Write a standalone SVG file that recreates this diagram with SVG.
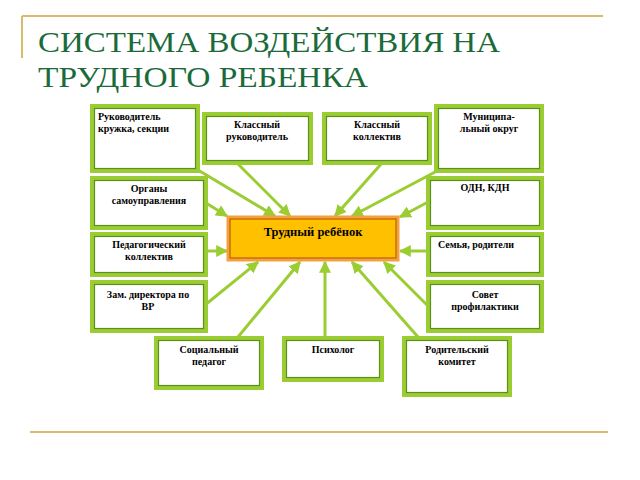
<svg xmlns="http://www.w3.org/2000/svg" width="640" height="480" viewBox="0 0 640 480">
<style>
.title{font-family:"Liberation Serif","DejaVu Serif",serif;font-size:29px;fill:#1b6b3a}
.box{fill:#fff;stroke:#9acd32;stroke-width:4}
.inner{fill:none;stroke:#5e8c1e;stroke-width:1.2}
.t{font-family:"Liberation Serif","DejaVu Serif",serif;font-size:10px;font-weight:bold;fill:#000;text-anchor:middle}
.tl{text-anchor:start}
.c{stroke:#9acd32;stroke-width:3;fill:none;marker-end:url(#ah)}
</style>
<defs>
<marker id="ah" viewBox="0 0 10 10" refX="9" refY="5" markerWidth="4" markerHeight="4" orient="auto" markerUnits="strokeWidth">
<path d="M0,0 L10,5 L0,10 z" fill="#9acd32"/>
</marker>
</defs>
<rect width="640" height="480" fill="#fff"/>
<g id="frame">
<line x1="22" y1="16" x2="603" y2="16" stroke="#d9bc6a" stroke-width="2"/>
<line x1="22" y1="16" x2="22" y2="58" stroke="#d9bc6a" stroke-width="2"/>
<line x1="30" y1="432" x2="608" y2="432" stroke="#d9bc6a" stroke-width="2"/>
</g>
<g id="title">
<text class="title" x="38" y="52" textLength="462" lengthAdjust="spacingAndGlyphs">СИСТЕМА ВОЗДЕЙСТВИЯ НА</text>
<text class="title" x="38" y="87" textLength="330" lengthAdjust="spacingAndGlyphs">ТРУДНОГО РЕБЕНКА</text>
</g>
<g id="connectors">
<line class="c" x1="198" y1="170" x2="275" y2="216"/>
<line class="c" x1="237" y1="163" x2="290" y2="216"/>
<line class="c" x1="206" y1="203" x2="227" y2="216"/>
<line class="c" x1="382" y1="163" x2="335" y2="216"/>
<line class="c" x1="437" y1="171" x2="352" y2="216"/>
<line class="c" x1="428" y1="202" x2="400" y2="217"/>
<line class="c" x1="207" y1="251" x2="227" y2="251"/>
<line class="c" x1="428" y1="251" x2="400" y2="251"/>
<line class="c" x1="205" y1="305" x2="258" y2="262"/>
<line class="c" x1="428" y1="306" x2="384" y2="262"/>
<line class="c" x1="238" y1="337" x2="300" y2="262"/>
<line class="c" x1="325" y1="337" x2="325" y2="262"/>
<line class="c" x1="418" y1="337" x2="352" y2="262"/>
</g>
<g id="n1"><rect class="box" x="92" y="106" width="106" height="65"/><rect class="inner" x="94.5" y="108.5" width="101" height="60"/>
<text class="t tl" x="98" y="120">Руководитель</text><text class="t tl" x="98" y="132">кружка, секции</text></g>
<g id="n2"><rect class="box" x="204" y="114" width="107" height="49"/><rect class="inner" x="206.5" y="116.5" width="102" height="44"/>
<text class="t" x="257" y="128">Классный</text><text class="t" x="257" y="140">руководитель</text></g>
<g id="n3"><rect class="box" x="324" y="114" width="106" height="49"/><rect class="inner" x="326.5" y="116.5" width="101" height="44"/>
<text class="t" x="377" y="128">Классный</text><text class="t" x="377" y="140">коллектив</text></g>
<g id="n4"><rect class="box" x="436" y="106" width="106" height="65"/><rect class="inner" x="438.5" y="108.5" width="101" height="60"/>
<text class="t" x="489" y="120">Муниципа-</text><text class="t" x="489" y="132">льный округ</text></g>
<g id="n5"><rect class="box" x="92" y="178" width="114" height="50"/><rect class="inner" x="94.5" y="180.5" width="109" height="45"/>
<text class="t" x="149" y="192">Органы</text><text class="t" x="149" y="204">самоуправления</text></g>
<g id="n6"><rect class="box" x="428" y="178" width="114" height="50"/><rect class="inner" x="430.5" y="180.5" width="109" height="45"/>
<text class="t" x="485" y="191">ОДН, КДН</text></g>
<g id="center"><rect x="228" y="217" width="170" height="43" fill="#ffc000" stroke="#f5a040" stroke-width="3"/><rect x="230" y="219" width="166" height="39" fill="none" stroke="#b85c10" stroke-width="1.2"/>
<text class="t" x="313" y="236" style="font-size:12.5px">Трудный ребёнок</text></g>
<g id="n7"><rect class="box" x="92" y="234" width="114" height="41"/><rect class="inner" x="94.5" y="236.5" width="109" height="36"/>
<text class="t" x="149" y="248">Педагогический</text><text class="t" x="149" y="260">коллектив</text></g>
<g id="n8"><rect class="box" x="428" y="234" width="114" height="41"/><rect class="inner" x="430.5" y="236.5" width="109" height="36"/>
<text class="t" x="476" y="248">Семья, родители</text></g>
<g id="n9"><rect class="box" x="92" y="282" width="114" height="49"/><rect class="inner" x="94.5" y="284.5" width="109" height="44"/>
<text class="t" x="148" y="298">Зам. директора по</text><text class="t" x="148" y="310">ВР</text></g>
<g id="n10"><rect class="box" x="428" y="282" width="114" height="49"/><rect class="inner" x="430.5" y="284.5" width="109" height="44"/>
<text class="t" x="485" y="298">Совет</text><text class="t" x="485" y="310">профилактики</text></g>
<g id="n11"><rect class="box" x="156" y="338" width="106" height="50"/><rect class="inner" x="158.5" y="340.5" width="101" height="45"/>
<text class="t" x="209" y="353">Социальный</text><text class="t" x="209" y="365">педагог</text></g>
<g id="n12"><rect class="box" x="284" y="338" width="98" height="42"/><rect class="inner" x="286.5" y="340.5" width="93" height="37"/>
<text class="t" x="333" y="353">Психолог</text></g>
<g id="n13"><rect class="box" x="404" y="338" width="106" height="57"/><rect class="inner" x="406.5" y="340.5" width="101" height="52"/>
<text class="t" x="457" y="353">Родительский</text><text class="t" x="457" y="365">комитет</text></g>
</svg>
